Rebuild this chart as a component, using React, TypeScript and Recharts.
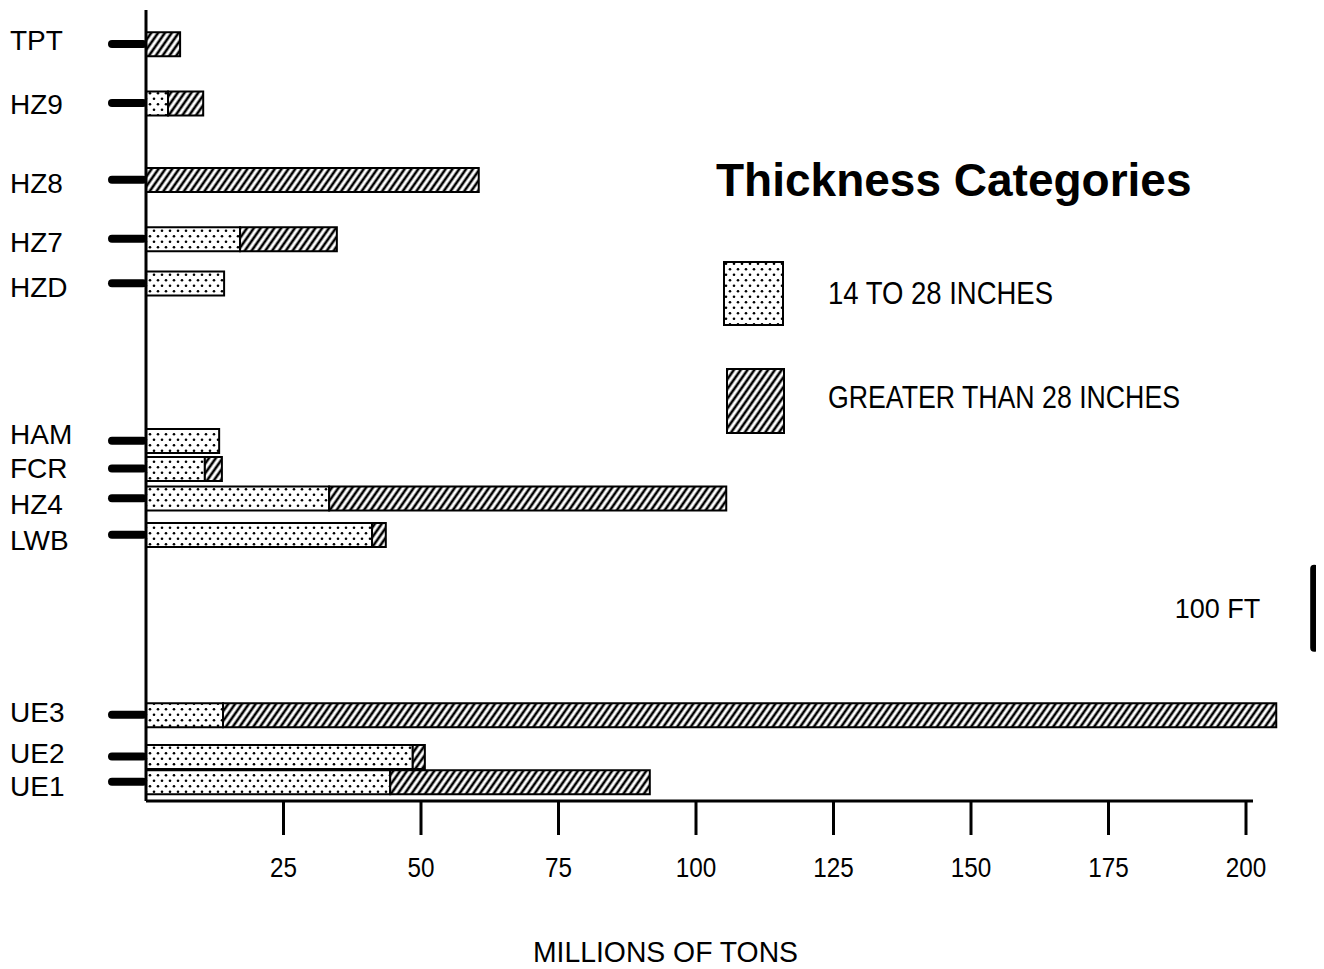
import React from 'react';
import { BarChart, Bar, XAxis, YAxis, ReferenceLine, Legend, Label } from 'recharts';

// Seam names, listed from top of section to bottom
const seams = ['TPT', 'HZ9', 'HZ8', 'HZ7', 'HZD', 'HAM', 'FCR', 'HZ4', 'LWB', 'UE3', 'UE2', 'UE1'];
// Stratigraphic position, feet below top of section
const depthFt = [39, 107, 195, 263, 314, 495, 527, 561, 603, 810, 858, 887];
// Millions of tons, 14 to 28 inches thick
const thinTons = [0, 4, 0, 17.1, 14.2, 13.3, 10.7, 33.3, 41.1, 14, 48.5, 44.4];
// Millions of tons, greater than 28 inches thick
const thickTons = [6.2, 6.4, 60.5, 17.6, 0, 0, 3.1, 72.2, 2.5, 191.5, 2.2, 47.2];
const xTicks = [25, 50, 75, 100, 125, 150, 175, 200];
const seriesNames = ['14 TO 28 INCHES', 'GREATER THAN 28 INCHES'];
const legendTitle = 'Thickness Categories';
const xLabel = 'MILLIONS OF TONS';
const scaleBarLabel = '100 FT';
const scaleBarFt = [642, 733];
const scaleBarAt = 212.4;

const data = seams.map((seam, i) => ({
  seam,
  depth: depthFt[i],
  thin: thinTons[i],
  thick: thickTons[i],
}));

const FONT = "'Liberation Sans', Arial, sans-serif";
const labelNudge: Record<string, number> = {
  TPT: -4, HZ9: 1, HZ8: 3, HZ7: 3, HZD: 4, HAM: -7, FCR: -1, HZ4: 6, LWB: 5, UE3: -3, UE2: -4, UE1: 4,
};

function SeamTick(props: any) {
  const { x, y, payload } = props;
  const idx = depthFt.indexOf(payload.value);
  const name = idx >= 0 ? seams[idx] : '';
  return (
    <g>
      <line x1={x - 34} x2={x - 3} y1={y} y2={y} stroke="#000" strokeWidth={8} strokeLinecap="round" />
      <text x={2} y={y + (labelNudge[name] || 0)} dy="0.36em" fontSize={28} fontFamily={FONT} fill="#000">
        {name}
      </text>
    </g>
  );
}

function TonsTick(props: any) {
  const { x, y, payload } = props;
  const s = String(payload.value);
  return (
    <text x={x} y={y} dy="0.71em" textAnchor="middle" fontSize={28} fontFamily={FONT} fill="#000"
      textLength={s.length * 13.5} lengthAdjust="spacingAndGlyphs">
      {s}
    </text>
  );
}

function ThicknessLegend(props: any) {
  const payload = props.payload || [];
  const boxes = [
    { x: 24, y: 122, w: 59, h: 63, ty: 164, len: 225 },
    { x: 27, y: 229, w: 57, h: 64, ty: 268, len: 352 },
  ];
  return (
    <svg width={580} height={320} style={{ display: 'block', overflow: 'visible' }}>
      <text x={16} y={56} fontSize={46} fontWeight="bold" fontFamily={FONT} fill="#000">
        {legendTitle}
      </text>
      {payload.map((p: any, i: number) => {
        const b = boxes[i];
        if (!b) return null;
        return (
          <g key={p.value}>
            <rect x={b.x} y={b.y} width={b.w} height={b.h} fill={p.color} stroke="#000" strokeWidth={2} />
            <text x={128} y={b.ty} fontSize={31} fontFamily={FONT} fill="#000"
              textLength={b.len} lengthAdjust="spacingAndGlyphs">
              {p.value}
            </text>
          </g>
        );
      })}
    </svg>
  );
}

function AxisTitle(props: any) {
  const vb = props.viewBox || { x: 0, y: 0, width: 0, height: 0 };
  return (
    <text x={vb.x + vb.width / 2 - 69} y={vb.y + vb.height - 7} textAnchor="middle" fontSize={30}
      fontFamily={FONT} fill="#000" textLength={265} lengthAdjust="spacingAndGlyphs">
      {xLabel}
    </text>
  );
}

export default function App() {
  return (
    <BarChart
      width={1316}
      height={961}
      data={data}
      layout="vertical"
      margin={{ top: 2, right: 1, bottom: 0, left: 0 }}
      barSize={24}
    >
      <defs>
        <pattern id="stipple" width="8" height="11" patternUnits="userSpaceOnUse">
          <rect width="8" height="11" fill="#fff" />
          <circle cx="2" cy="2.75" r="1.3" fill="#000" />
          <circle cx="6" cy="8.25" r="1.3" fill="#000" />
        </pattern>
        <pattern id="hatch" width="5.6" height="10" patternUnits="userSpaceOnUse" patternTransform="rotate(35)">
          <rect width="5.6" height="10" fill="#fff" />
          <line x1="2.8" y1="-1" x2="2.8" y2="11" stroke="#000" strokeWidth="2.6" />
        </pattern>
      </defs>
      <XAxis
        type="number"
        domain={[0, 214]}
        ticks={xTicks}
        interval={0}
        height={168}
        tickSize={34}
        tickMargin={22}
        axisLine={{ stroke: '#000', strokeWidth: 3, strokeDasharray: '1107 2000' }}
        tickLine={{ stroke: '#000', strokeWidth: 3 }}
        tick={<TonsTick />}
      >
        <Label content={<AxisTitle />} position="insideBottom" />
      </XAxis>
      <YAxis
        type="number"
        dataKey="depth"
        domain={[0, 909]}
        ticks={depthFt}
        interval={0}
        width={138}
        tickSize={0}
        tickMargin={0}
        tickLine={false}
        axisLine={{ stroke: '#000', strokeWidth: 3 }}
        tick={<SeamTick />}
      />
      <Legend
        layout="vertical"
        align="center"
        verticalAlign="middle"
        wrapperStyle={{ left: 692, top: 132, width: 580, height: 320 }}
        content={<ThicknessLegend />}
      />
      <Bar
        dataKey="thin"
        name={seriesNames[0]}
        stackId="s"
        fill="url(#stipple)"
        stroke="#000"
        strokeWidth={2}
        isAnimationActive={false}
      />
      <Bar
        dataKey="thick"
        name={seriesNames[1]}
        stackId="s"
        fill="url(#hatch)"
        stroke="#000"
        strokeWidth={2}
        isAnimationActive={false}
      />
      <ReferenceLine
        segment={[
          { x: scaleBarAt, y: scaleBarFt[0] },
          { x: scaleBarAt, y: scaleBarFt[1] },
        ]}
        stroke="#000"
        strokeWidth={8}
        strokeLinecap="round"
        ifOverflow="visible"
        label={{ value: scaleBarLabel, position: 'left', offset: 54, fill: '#000', fontSize: 27, fontFamily: FONT }}
      />
    </BarChart>
  );
}
